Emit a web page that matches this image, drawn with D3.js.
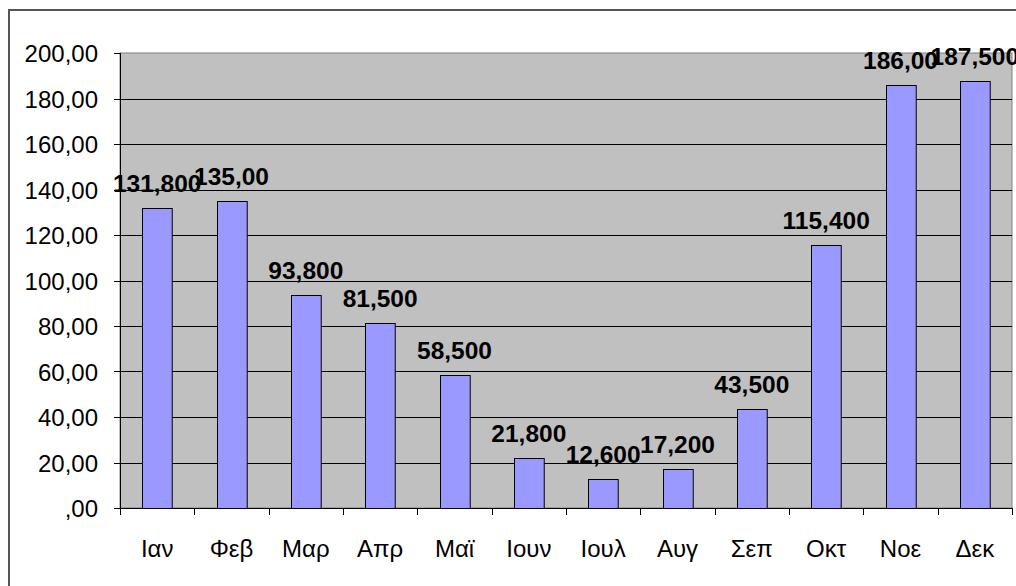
<!DOCTYPE html>
<html>
<head>
<meta charset="utf-8">
<script src="https://cdn.jsdelivr.net/npm/d3@7"></script>
<style>
  body { margin: 0; background: #fff; }
  svg { display: block; font-family: "Liberation Sans", Arial, sans-serif; }
</style>
</head>
<body>
<div id="chart"></div>
<script>
const months = ["Ιαν", "Φεβ", "Μαρ", "Απρ", "Μαϊ", "Ιουν", "Ιουλ", "Αυγ", "Σεπ", "Οκτ", "Νοε", "Δεκ"]
const values = [131.8, 135, 93.8, 81.5, 58.5, 21.8, 12.6, 17.2, 43.5, 115.4, 186, 187.5]
const valueLabels = ["131,800", "135,00", "93,800", "81,500", "58,500", "21,800", "12,600", "17,200", "43,500", "115,400", "186,00", "187,500"]
const yTicks = [0, 20, 40, 60, 80, 100, 120, 140, 160, 180, 200]
const yTickLabels = [",00", "20,00", "40,00", "60,00", "80,00", "100,00", "120,00", "140,00", "160,00", "180,00", "200,00"]

const W = 1016, H = 586
const plot = { left: 120, top: 53, right: 1012, bottom: 508 }

const svg = d3.select("#chart").append("svg").attr("width", W).attr("height", H)

// outer chart border (runs off the right / bottom edge)
svg.append("rect")
  .attr("x", 9).attr("y", 10)
  .attr("width", W + 20).attr("height", H + 20)
  .attr("fill", "#fff").attr("stroke", "#555").attr("stroke-width", 2)

const x = d3.scaleBand().domain(months).range([plot.left, plot.right]).paddingInner(0.6).paddingOuter(0.3)
const xTickScale = d3.scaleLinear().domain([0, months.length]).range([plot.left, plot.right])
const y = d3.scaleLinear().domain([0, 200]).range([plot.bottom, plot.top])

svg.append("rect")
  .attr("x", plot.left).attr("y", plot.top)
  .attr("width", plot.right - plot.left).attr("height", plot.bottom - plot.top)
  .attr("fill", "#c0c0c0").attr("stroke", "#808080").attr("stroke-width", 1)

// gridlines
svg.append("g").selectAll("line").data(yTicks.slice(1, -1)).enter().append("line")
  .attr("x1", plot.left).attr("x2", plot.right)
  .attr("y1", (d) => Math.round(y(d)) + 0.5).attr("y2", (d) => Math.round(y(d)) + 0.5)
  .attr("stroke", "#000").attr("stroke-width", 1)

// bars
svg.append("g").selectAll("rect").data(values).enter().append("rect")
  .attr("x", (d, i) => Math.round(x(months[i])) + 0.5)
  .attr("y", (d) => Math.round(y(d)) + 0.5)
  .attr("width", x.bandwidth())
  .attr("height", (d) => plot.bottom - Math.round(y(d)))
  .attr("fill", "#9999ff").attr("stroke", "#000").attr("stroke-width", 1)

// y axis
const yAxis = svg.append("g")
yAxis.append("line")
  .attr("x1", plot.left + 0.5).attr("x2", plot.left + 0.5)
  .attr("y1", plot.top).attr("y2", plot.bottom)
  .attr("stroke", "#000")
yAxis.selectAll("line.tick").data(yTicks).enter().append("line")
  .attr("class", "tick")
  .attr("x1", plot.left - 6).attr("x2", plot.left)
  .attr("y1", (d) => Math.round(y(d)) + 0.5).attr("y2", (d) => Math.round(y(d)) + 0.5)
  .attr("stroke", "#000")
yAxis.selectAll("text").data(yTicks).enter().append("text")
  .attr("x", 98).attr("y", (d) => y(d) + 9)
  .attr("text-anchor", "end")
  .attr("font-size", 24)
  .attr("fill", "#000")
  .text((d, i) => yTickLabels[i])

// x axis
const xAxis = svg.append("g")
xAxis.append("line")
  .attr("x1", plot.left).attr("x2", plot.right)
  .attr("y1", plot.bottom + 0.5).attr("y2", plot.bottom + 0.5)
  .attr("stroke", "#000")
xAxis.selectAll("line.tick").data(d3.range(months.length + 1)).enter().append("line")
  .attr("class", "tick")
  .attr("x1", (d) => Math.round(xTickScale(d)) + 0.5).attr("x2", (d) => Math.round(xTickScale(d)) + 0.5)
  .attr("y1", plot.bottom).attr("y2", plot.bottom + 7)
  .attr("stroke", "#000")
xAxis.selectAll("text").data(months).enter().append("text")
  .attr("x", (d) => x(d) + x.bandwidth() / 2)
  .attr("y", 557)
  .attr("text-anchor", "middle")
  .attr("font-size", 24)
  .attr("fill", "#000")
  .text((d) => d)

// value labels
svg.append("g").selectAll("text").data(values).enter().append("text")
  .attr("x", (d, i) => x(months[i]) + x.bandwidth() / 2)
  .attr("y", (d) => y(d) - 16)
  .attr("text-anchor", "middle")
  .attr("font-size", 24.5)
  .attr("font-weight", "bold")
  .attr("fill", "#000")
  .text((d, i) => valueLabels[i])
</script>
</body>
</html>
